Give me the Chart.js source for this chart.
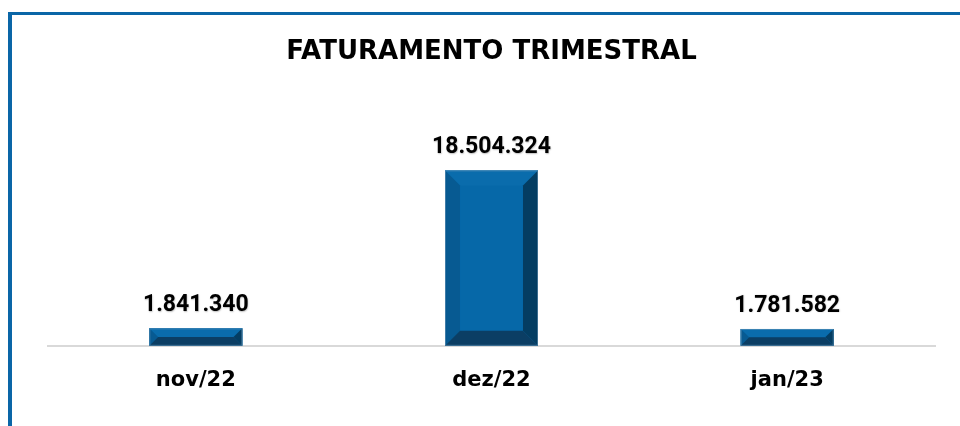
<!DOCTYPE html>
<html>
<head>
<meta charset="utf-8">
<script src="https://cdn.jsdelivr.net/npm/chart.js@4"></script>
<style>
  html, body { margin: 0; padding: 0; background: #fff; }
  #wrap { position: relative; width: 960px; height: 426px; overflow: hidden; }
  #frame { position: absolute; left: 8px; top: 12px; width: 960px; height: 430px;
           border-top: 3px solid #0a66a7; border-left: 4px solid #0a66a7; box-sizing: border-box; }
  canvas { position: absolute; left: 0; top: 0; }
</style>
</head>
<body>
<div id="wrap">
  <div id="frame"></div>
  <canvas id="c" width="960" height="426"></canvas>
</div>
<script>
const categories = ["nov/22", "dez/22", "jan/23"];
const faturamento = [1841340, 18504324, 1781582];
const chartTitle = "FATURAMENTO TRIMESTRAL";

function fmtBR(n) {
  return String(Math.round(n)).replace(/\B(?=(\d{3})+(?!\d))/g, ".");
}

const bevelPlugin = {
  id: 'bevel',
  afterDatasetsDraw(chart) {
    const ctx = chart.ctx;
    const meta = chart.getDatasetMeta(0);
    const values = chart.data.datasets[0].data;
    meta.data.forEach((bar, i) => {
      const p = bar.getProps(['x', 'y', 'base', 'width'], true);
      const l = p.x - p.width / 2, r = p.x + p.width / 2;
      const t = Math.min(p.y, p.base), b = Math.max(p.y, p.base);
      const h = b - t, w = r - l;
      const s = Math.min(15, h / 2, w / 2);
      const poly = (pts, col) => {
        ctx.beginPath();
        ctx.moveTo(pts[0][0], pts[0][1]);
        for (let k = 1; k < pts.length; k++) ctx.lineTo(pts[k][0], pts[k][1]);
        ctx.closePath();
        ctx.fillStyle = col;
        ctx.fill();
      };
      ctx.save();
      poly([[l, t], [r, t], [r, b], [l, b]], '#0668a8');
      poly([[l, t], [r, t], [r - s, t + s], [l + s, t + s]], '#0a6cac');
      poly([[l, t], [l + s, t + s], [l + s, b - s], [l, b]], '#075a92');
      poly([[r, t], [r, b], [r - s, b - s], [r - s, t + s]], '#043d62');
      poly([[l, b], [l + s, b - s], [r - s, b - s], [r, b]], '#0b3e64');
      ctx.strokeStyle = 'rgba(120,160,190,0.5)';
      ctx.lineWidth = 1;
      ctx.strokeRect(l + 0.5, t + 0.5, w - 1, h - 1);
      ctx.font = 'bold 23px Roboto, "Liberation Sans", sans-serif';
      ctx.fillStyle = '#000';
      ctx.textAlign = 'center';
      ctx.textBaseline = 'alphabetic';
      ctx.shadowColor = 'rgba(0,0,0,0.25)';
      ctx.shadowBlur = 1.5;
      ctx.shadowOffsetX = 0.5;
      ctx.shadowOffsetY = 0.5;
      ctx.fillText(fmtBR(values[i]), p.x, t - 17);
      ctx.restore();
    });
  }
};

new Chart(document.getElementById('c'), {
  type: 'bar',
  data: {
    labels: categories,
    datasets: [{
      data: faturamento,
      backgroundColor: '#0668a8',
      borderWidth: 0,
      barPercentage: 0.3145,
      categoryPercentage: 1.0
    }]
  },
  options: {
    responsive: false,
    animation: false,
    events: [],
    layout: { padding: { left: 48, right: 25, top: 0, bottom: 11 } },
    plugins: {
      legend: { display: false },
      tooltip: { enabled: false },
      title: {
        display: true,
        text: chartTitle,
        color: '#000',
        font: { family: '"DejaVu Sans", sans-serif', size: 26, weight: 'bold' },
        padding: { top: 37, bottom: 88 }
      }
    },
    scales: {
      x: {
        grid: { display: false, drawTicks: false },
        border: { display: true, color: '#d9d9d9', width: 2 },
        ticks: {
          color: '#000',
          padding: 22,
          font: { family: '"DejaVu Sans", sans-serif', size: 21, weight: 'bold' }
        }
      },
      y: {
        display: false,
        min: 0,
        max: 20000000
      }
    }
  },
  plugins: [bevelPlugin]
});
</script>
</body>
</html>
